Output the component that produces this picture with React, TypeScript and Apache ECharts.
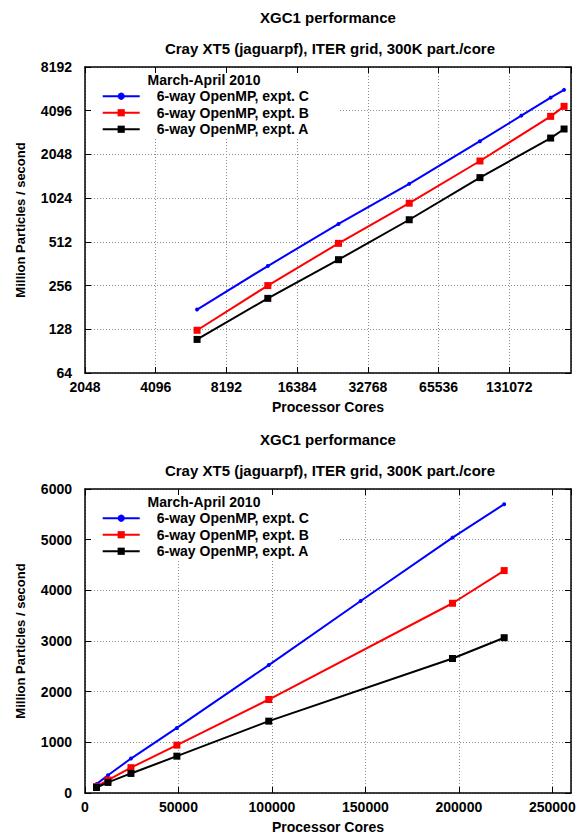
import React, { useEffect, useRef } from "react";
import * as echarts from "echarts";

// ---- data ----
const titleMain = "XGC1 performance";
const titleSub = "Cray XT5 (jaguarpf), ITER grid, 300K part./core";
const legendTitle = "March-April 2010";
const seriesNames = ["6-way OpenMP, expt. C", "6-way OpenMP, expt. B", "6-way OpenMP, expt. A"];
const seriesColors = ["#0000ff", "#ff0000", "#000000"];
const seriesSymbols = ["circle", "rect", "rect"];
const seriesSymbolSizes = [4, 7, 7];

const coresC = [6144, 12288, 24576, 49152, 98304, 147456, 196608, 224256];
const coresAB = [6144, 12288, 24576, 49152, 98304, 196608, 224256];
const exptC = [175, 349, 680, 1284, 2525, 3790, 5040, 5700];
const exptB = [126, 256, 500, 945, 1845, 3745, 4390];
const exptA = [109, 209, 386, 727, 1418, 2655, 3065];

const logXRange = [2048, 240000];
const logYRange = [64, 8192];
const linXRange = [0, 260000];
const linXInterval = 50000;
const linYRange = [0, 6000];
const linYInterval = 1000;

const xName = "Processor Cores";
const yName = "Million Particles / second";

const FONT = '"Liberation Sans", Arial, Helvetica, sans-serif';
const OFFSET = 422;

function pairs(xs: number[], ys: number[]) {
  return xs.map((x, i) => [x, ys[i]]);
}

export default function App() {
  const ref = useRef<HTMLDivElement>(null);
  useEffect(() => {
    if (!ref.current) return;
    const chart = echarts.init(ref.current, undefined, { renderer: "svg" });

    const grids = [
      { left: 85, top: 67, width: 486, height: 306 },
      { left: 85, top: 67 + OFFSET, width: 486, height: 305 },
    ];

    const border = { show: true, onZero: false, lineStyle: { color: "#000", width: 1.5 } };
    const tick = { show: true, inside: true, length: 6, lineStyle: { color: "#000", width: 1 } };
    const split = { show: true, lineStyle: { color: "#8c8c8c", width: 1, type: [1, 2] as any } };
    const label = {
      fontFamily: FONT,
      fontWeight: "bold" as const,
      fontSize: 14,
      color: "#000",
      formatter: (v: number) => String(Math.round(v)),
    };
    const nameStyle = { fontFamily: FONT, fontWeight: "bold" as const, fontSize: 14, color: "#000" };

    const xAxes: any[] = [];
    const yAxes: any[] = [];
    [0, 1].forEach((g) => {
      const isLog = g === 0;
      const xr = isLog ? logXRange : linXRange;
      const yr = isLog ? logYRange : linYRange;
      const xBase: any = isLog
        ? { type: "log", logBase: 2, min: xr[0], max: xr[1] }
        : { type: "value", min: xr[0], max: xr[1], interval: linXInterval };
      const yBase: any = isLog
        ? { type: "log", logBase: 2, min: yr[0], max: yr[1] }
        : { type: "value", min: yr[0], max: yr[1], interval: linYInterval };
      xAxes.push({
        ...xBase,
        gridIndex: g,
        position: "bottom",
        axisLine: border,
        axisTick: tick,
        splitLine: split,
        axisLabel: { ...label, margin: 7, showMaxLabel: false },
        name: xName,
        nameLocation: "middle",
        nameGap: 27,
        nameTextStyle: nameStyle,
      });
      xAxes.push({
        ...xBase,
        gridIndex: g,
        position: "top",
        axisLine: border,
        axisTick: tick,
        splitLine: { show: false },
        axisLabel: { show: false },
      });
      yAxes.push({
        ...yBase,
        gridIndex: g,
        position: "left",
        axisLine: border,
        axisTick: tick,
        splitLine: split,
        axisLabel: { ...label, margin: 13 },
        name: yName,
        nameLocation: "middle",
        nameGap: 58,
        nameTextStyle: { ...nameStyle, fontSize: 13 },
      });
      yAxes.push({
        ...yBase,
        gridIndex: g,
        position: "right",
        axisLine: border,
        axisTick: tick,
        splitLine: { show: false },
        axisLabel: { show: false },
      });
    });

    const seriesData = [
      pairs(coresC, exptC),
      pairs(coresAB, exptB),
      pairs(coresAB, exptA),
    ];

    const series: any[] = [];
    [0, 1].forEach((g) => {
      seriesNames.forEach((name, i) => {
        series.push({
          type: "line",
          name,
          xAxisIndex: g * 2,
          yAxisIndex: g * 2,
          data: seriesData[i],
          symbol: seriesSymbols[i],
          symbolSize: seriesSymbolSizes[i],
          showSymbol: true,
          color: seriesColors[i],
          lineStyle: { color: seriesColors[i], width: 2 },
          itemStyle: { color: seriesColors[i] },
          z: 3,
        });
      });
    });

    const legends = [0, 1].map((g) => ({
      data: seriesNames,
      orient: "vertical",
      left: 101.7,
      top: 88 + g * OFFSET,
      padding: 0,
      itemGap: 0,
      itemWidth: 37,
      itemHeight: 9,
      selectedMode: false,
      z: 10,
      textStyle: {
        fontFamily: FONT,
        fontWeight: "bold",
        fontSize: 14,
        color: "#000",
        lineHeight: 16.5,
        padding: [0, 0, 0, 12],
      },
    }));

    const graphic: any[] = [];
    [0, 1].forEach((g) => {
      const dy = g * OFFSET;
      graphic.push({
        type: "rect",
        z: 5,
        shape: { x: 91, y: 73 + dy, width: 247, height: 65 },
        style: { fill: "#fff" },
      });
      graphic.push({
        type: "text",
        z: 11,
        x: 328,
        y: 17 + dy,
        style: {
          text: titleMain,
          font: `bold 15px ${FONT}`,
          fill: "#000",
          textAlign: "center",
          textVerticalAlign: "middle",
        },
      });
      graphic.push({
        type: "text",
        z: 11,
        x: 330,
        y: 48 + dy,
        style: {
          text: titleSub,
          font: `bold 15px ${FONT}`,
          fill: "#000",
          textAlign: "center",
          textVerticalAlign: "middle",
        },
      });
      graphic.push({
        type: "text",
        z: 11,
        x: 204,
        y: 79.5 + dy,
        style: {
          text: legendTitle,
          font: `bold 14px ${FONT}`,
          fill: "#000",
          textAlign: "center",
          textVerticalAlign: "middle",
        },
      });
    });

    chart.setOption({
      animation: false,
      backgroundColor: "#fff",
      grid: grids,
      xAxis: xAxes,
      yAxis: yAxes,
      legend: legends,
      series,
      graphic,
    });
    return () => chart.dispose();
  }, []);

  return (
    <div
      ref={ref}
      style={{ position: "fixed", left: 0, top: 0, width: 581, height: 835, background: "#fff" }}
    />
  );
}
